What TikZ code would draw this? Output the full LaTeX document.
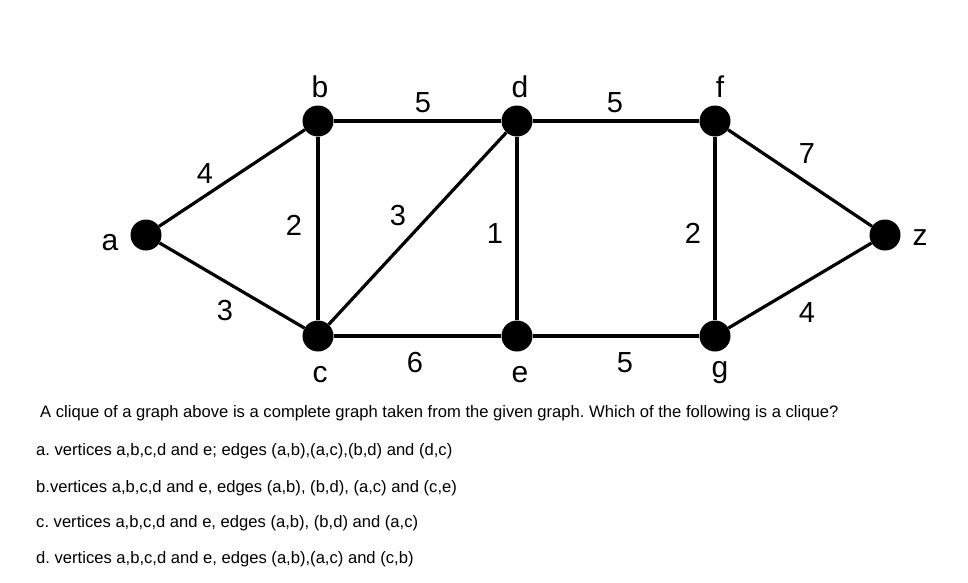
\documentclass[tikz,border=0pt]{standalone}
\usepackage{fontspec}
\setmainfont{Liberation Sans}
\frenchspacing
\begin{document}
\begin{tikzpicture}[x=1pt,y=-1pt,
  vtx/.style={circle,fill=black,inner sep=0pt,minimum size=31pt},
  edge/.style={line width=3.2pt},
  lbl/.style={font=\fontsize{30}{32}\selectfont,anchor=base,inner sep=0pt},
  wt/.style={font=\fontsize{29}{32}\selectfont,anchor=base,inner sep=0pt},
  txt/.style={font=\fontsize{16.6}{18}\selectfont,anchor=base west,inner sep=0pt}]
\useasboundingbox (0,0) rectangle (968,582);
\node[vtx] (a) at (146,235) {};
\node[vtx] (b) at (318,121) {};
\node[vtx] (d) at (517,121) {};
\node[vtx] (f) at (715,121) {};
\node[vtx] (c) at (318,336) {};
\node[vtx] (e) at (517,336) {};
\node[vtx] (g) at (715,336) {};
\node[vtx] (z) at (885,235) {};
\draw[edge] (a) -- (b);
\draw[edge] (a) -- (c);
\draw[edge] (b) -- (c);
\draw[edge] (b) -- (d);
\draw[edge] (c) -- (d);
\draw[edge] (c) -- (e);
\draw[edge] (d) -- (e);
\draw[edge] (d) -- (f);
\draw[edge] (e) -- (g);
\draw[edge] (f) -- (g);
\draw[edge] (f) -- (z);
\draw[edge] (g) -- (z);
% vertex labels
\node[lbl] (la) at (110,250) {a};
\node[lbl] (lb) at (320,97) {b};
\node[lbl] (ld) at (520,97) {d};
\node[lbl] (lf) at (720,97) {f};
\node[lbl] (lc) at (320,382) {c};
\node[lbl] (le) at (520,382) {e};
\node[lbl] (lg) at (720,377) {g};
\node[lbl] (lz) at (920,245) {z};
% weights
\node[wt] (w1) at (205,183) {4};
\node[wt] (w2) at (225,320) {3};
\node[wt] (w3) at (294,235) {2};
\node[wt] (w4) at (398,225) {3};
\node[wt] (w5) at (423,112) {5};
\node[wt] (w6) at (495,243) {1};
\node[wt] (w7) at (415,372) {6};
\node[wt] (w8) at (615,112) {5};
\node[wt] (w9) at (693,243) {2};
\node[wt] (w10) at (807,163) {7};
\node[wt] (w11) at (807,322) {4};
\node[wt] (w12) at (625,372) {5};
% text
\node[txt] (t0) at (40,417) {A clique of a graph above is a complete graph taken from the given graph. Which of the following is a clique?};
\node[txt] (t1) at (36,455) {a. vertices a,b,c,d and e; edges (a,b),(a,c),(b,d) and (d,c)};
\node[txt] (t2) at (36,492) {b.vertices a,b,c,d and e, edges (a,b), (b,d), (a,c) and (c,e)};
\node[txt] (t3) at (36,527) {c. vertices a,b,c,d and e, edges (a,b), (b,d) and (a,c)};
\node[txt] (t4) at (36,563) {d. vertices a,b,c,d and e, edges (a,b),(a,c) and (c,b)};
\end{tikzpicture}
\end{document}
